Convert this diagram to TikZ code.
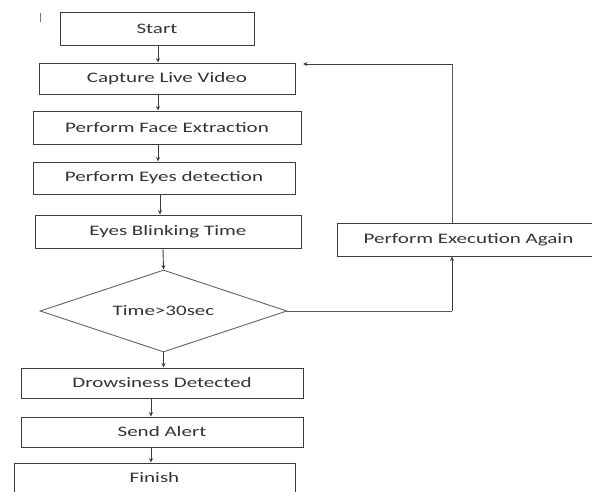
\documentclass[tikz,border=0pt]{standalone}
\usepackage{fontspec}
\setmainfont[FakeStretch=1.45]{Carlito}
\usetikzlibrary{shapes.geometric,arrows.meta}
\definecolor{linec}{HTML}{3C3C3C}
\definecolor{textc}{HTML}{333333}
\begin{document}
\begin{tikzpicture}[x=1pt,y=-1pt,
  box/.style={draw=linec, line width=0.9pt, rectangle, inner sep=0pt, text=textc, font=\fontsize{14.5}{16}\selectfont},
  decision/.style={draw=linec!80, line width=0.9pt, diamond, aspect=3, inner sep=0pt, text=textc, font=\fontsize{14.5}{16}\selectfont},
  flow/.style={draw=linec, line width=0.9pt, -{Stealth[length=4.5pt,width=4pt]}},
  link/.style={draw=linec!85, line width=0.9pt}]
\useasboundingbox (0,0) rectangle (592,491);
\clip (0,0) rectangle (592,491);
\fill[white] (0,0) rectangle (592,491);
% stray mark
\coordinate (m1) at (40,13);
\coordinate (m2) at (40,22);
\draw[linec!70, line width=0.7pt] (m1) -- (m2);
% nodes
\node[box, minimum width=194, minimum height=33] (start) at (157,28.5) {Start};
\node[box, minimum width=256, minimum height=31] (capture) at (167,78.5) {Capture Live Video};
\node[box, minimum width=268, minimum height=33] (face) at (167,127.5) {Perform Face Extraction};
\node[box, minimum width=262, minimum height=32] (eyes) at (164,178) {Perform Eyes detection};
\node[box, minimum width=266, minimum height=33] (blink) at (168,231.5) {Eyes Blinking Time};
\node[decision, minimum width=247, minimum height=82] (time) at (163.5,311) {Time>30sec};
\node[box, minimum width=282, minimum height=30] (drowsy) at (162,383) {Drowsiness Detected};
\node[box, minimum width=282, minimum height=30] (alert) at (162,432) {Send Alert};
\node[box, minimum width=281, minimum height=30] (finish) at (154.5,478) {Finish};
\node[box, minimum width=263, minimum height=33] (again) at (468.5,239.5) {Perform Execution Again};
% main flow
\draw[flow] (start.south -| 158,0) -- (capture.north -| 158,0);
\draw[flow] (capture.south -| 158,0) -- (face.north -| 158,0);
\draw[flow] (face.south -| 158,0) -- (eyes.north -| 158,0);
\draw[flow] (eyes.south -| 160,0) -- (blink.north -| 160,0);
\draw[flow] (blink.south -| 163,0) -- (time.north);
\draw[flow] (time.south) -- (drowsy.north -| time.south);
\draw[flow] (drowsy.south -| 151,0) -- (alert.north -| 151,0);
\draw[flow] (alert.south -| 151,0) -- (finish.north -| 151,0);
% loop back
\coordinate (c1) at (452,311);
\coordinate (c2) at (452,64);
\coordinate (c3) at (303,64);
\draw[link] (time.east) -- (c1);
\draw[flow] (c1) -- (again.south -| c1);
\draw[link] (again.north -| c2) -- (c2);
\draw[flow] (c2) -- (c3);
\end{tikzpicture}
\end{document}
